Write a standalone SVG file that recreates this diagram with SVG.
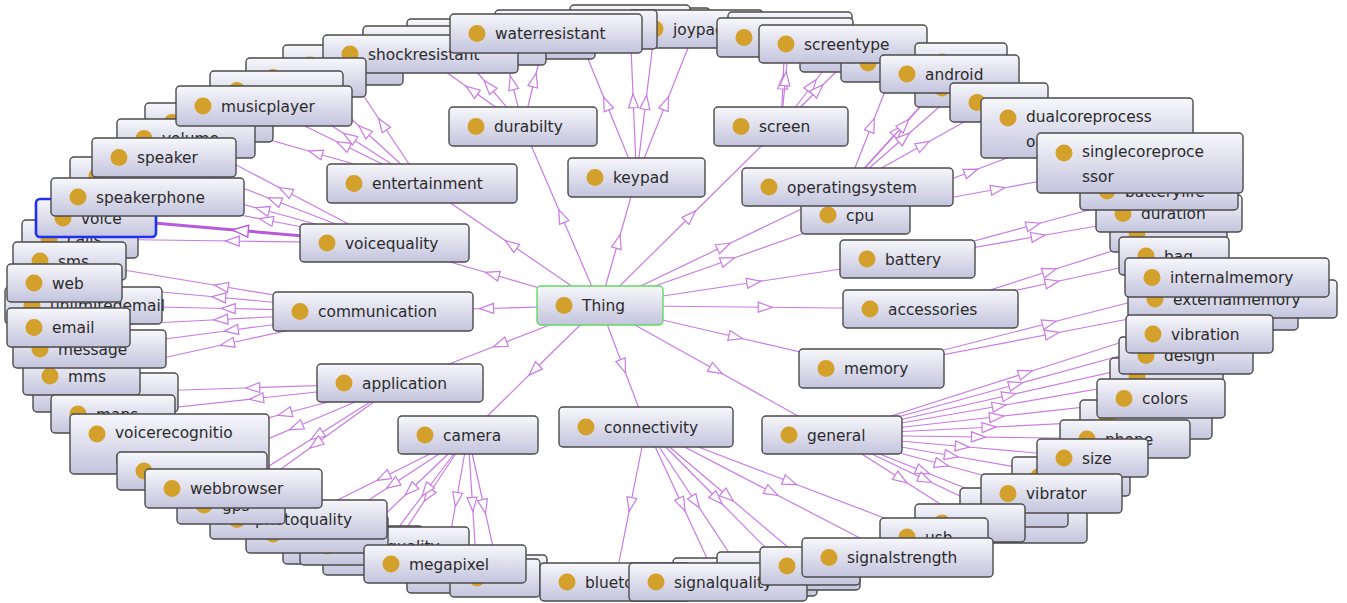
<svg xmlns="http://www.w3.org/2000/svg" width="1347" height="603" viewBox="0 0 1347 603">
<defs>
<linearGradient id="g" x1="0" y1="0" x2="0" y2="1"><stop offset="0" stop-color="#f7f7fb"/><stop offset="1" stop-color="#c4c4de"/></linearGradient>
<marker id="a" markerWidth="16" markerHeight="12" refX="8" refY="6" orient="auto" markerUnits="userSpaceOnUse" viewBox="0 0 16 12"><path d="M1,1 L15,6 L1,11 Z" fill="#fff" stroke="#c97ae3" stroke-width="1.2"/></marker>
<marker id="a2" markerWidth="18" markerHeight="14" refX="9" refY="7" orient="auto" markerUnits="userSpaceOnUse" viewBox="0 0 18 14"><path d="M1,1 L17,7 L1,13 Z" fill="#fff" stroke="#b75ad8" stroke-width="1.4"/></marker>
</defs>
<style>
.n rect{fill:url(#g);stroke:#4b4b4b;stroke-width:1.4}
.n circle{fill:#d3a02c}
.n text{font-family:"DejaVu Sans",sans-serif;font-size:15.4px;fill:#2b2b2b}
#n-thing rect{stroke:#5fdc5f}
#n-voice rect{stroke:#2030f0;stroke-width:2.6}
#edges polyline{fill:none;stroke:#c97ae3;stroke-width:1.2;marker-mid:url(#a)}
#edges polyline.hl{stroke:#b75ad8;stroke-width:3;marker-mid:url(#a2)}
</style>
<rect width="1347" height="603" fill="#fff"/>
<g id="edges">
<polyline points="600,305.5 511,244.5 422,183.5"/>
<polyline points="600,305.5 561.5,216 523,126.5"/>
<polyline points="600,305.5 618.25,241.5 636.5,177.5"/>
<polyline points="600,305.5 690.5,216 781,126.5"/>
<polyline points="600,305.5 723.75,246.25 847.5,187"/>
<polyline points="600,305.5 727.75,260.25 855.5,215"/>
<polyline points="600,305.5 753.75,282.25 907.5,259"/>
<polyline points="600,305.5 765.25,307.25 930.5,309"/>
<polyline points="600,305.5 735.75,337 871.5,368.5"/>
<polyline points="600,305.5 716,370.25 832,435"/>
<polyline points="600,305.5 623,366.25 646,427"/>
<polyline points="600,305.5 534,370.25 468,435"/>
<polyline points="600,305.5 500,344.25 400,383"/>
<polyline points="600,305.5 486.5,308.5 373,311.5"/>
<polyline points="600,305.5 492.25,274.25 384.5,243"/>
<polyline points="422,183.5 382.5,124.25 343,65"/>
<polyline points="422,183.5 364,130.5 306,77.5"/>
<polyline points="422,183.5 349.25,137 276.5,90.5"/>
<polyline points="422,183.5 343,144.75 264,106"/>
<polyline points="422,183.5 315.5,153 209,122.5"/>
<polyline points="384.5,243 285.25,190.75 186,138.5"/>
<polyline points="384.5,243 274.25,200.25 164,157.5"/>
<polyline points="384.5,243 262.25,209.5 140,176"/>
<polyline points="384.5,243 266,220 147.5,197"/>
<polyline class="hl" points="384.5,243 240.25,230.5 96,218"/>
<polyline points="384.5,243 232.25,241 80,239"/>
<polyline points="523,126.5 471.75,90.25 420.5,54"/>
<polyline points="523,126.5 488.75,86 454.5,45.5"/>
<polyline points="523,126.5 512,82.75 501,39"/>
<polyline points="523,126.5 534.5,80 546,33.5"/>
<polyline points="636.5,177.5 606.25,103.5 576,29.5"/>
<polyline points="636.5,177.5 633.25,100.75 630,24"/>
<polyline points="636.5,177.5 645.75,102.25 655,27"/>
<polyline points="636.5,177.5 666,103.25 695.5,29"/>
<polyline points="781,126.5 783,82 785,37.5"/>
<polyline points="781,126.5 785.5,78.75 790,31"/>
<polyline points="781,126.5 812,85.25 843,44"/>
<polyline points="781,126.5 818,89.75 855,53"/>
<polyline points="847.5,187 871.75,125 896,63"/>
<polyline points="847.5,187 898.5,130.5 949.5,74"/>
<polyline points="847.5,187 904.25,124.5 961,62"/>
<polyline points="847.5,187 904.25,137.5 961,88"/>
<polyline points="847.5,187 923.25,144.75 999,102.5"/>
<polyline points="855.5,215 971.25,171.5 1087,128"/>
<polyline points="855.5,215 997.75,189 1140,163"/>
<polyline points="907.5,259 1033.25,225 1159,191"/>
<polyline points="907.5,259 1038.25,236.25 1169,213.5"/>
<polyline points="930.5,309 1049.5,271 1168.5,233"/>
<polyline points="930.5,309 1052.25,282.5 1174,256"/>
<polyline points="871.5,368.5 1049.25,323 1227,277.5"/>
<polyline points="871.5,368.5 1052,333.75 1232.5,299"/>
<polyline points="832,435 1025.5,373 1219,311"/>
<polyline points="832,435 1015.75,384.5 1199.5,334"/>
<polyline points="832,435 1009,395.25 1186,355.5"/>
<polyline points="832,435 999.25,406 1166.5,377"/>
<polyline points="832,435 996.5,416.75 1161,398.5"/>
<polyline points="832,435 989,427.25 1146,419.5"/>
<polyline points="832,435 978.5,437 1125,439"/>
<polyline points="832,435 962.25,446.5 1092.5,458"/>
<polyline points="832,435 951.5,455.75 1071,476.5"/>
<polyline points="832,435 941.75,464.25 1051.5,493.5"/>
<polyline points="832,435 923,471.25 1014,507.5"/>
<polyline points="832,435 925.25,479.5 1018.5,524"/>
<polyline points="832,435 901,479 970,523"/>
<polyline points="646,427 630.5,504.5 615,582"/>
<polyline points="646,427 682,504.5 718,582"/>
<polyline points="646,427 695.5,502 745,577"/>
<polyline points="646,427 717.25,499 788.5,571"/>
<polyline points="646,427 728,496.5 810,566"/>
<polyline points="646,427 771.75,492.25 897.5,557.5"/>
<polyline points="646,427 790,482 934,537"/>
<polyline points="468,435 383.25,477.25 298.5,519.5"/>
<polyline points="468,435 392.5,484.5 317,534"/>
<polyline points="468,435 410.5,490 353,545"/>
<polyline points="468,435 428,495.5 388,556"/>
<polyline points="468,435 426.25,490.5 384.5,546"/>
<polyline points="468,435 456.5,499.5 445,564"/>
<polyline points="468,435 472.5,504.5 477,574"/>
<polyline points="468,435 484,506.5 500,578"/>
<polyline points="400,383 252.75,387.75 105.5,392.5"/>
<polyline points="400,383 256.5,398.5 113,414"/>
<polyline points="400,383 284.75,413.5 169.5,444"/>
<polyline points="400,383 296,427 192,471"/>
<polyline points="400,383 316.75,435.75 233.5,488.5"/>
<polyline points="400,383 315.5,444 231,505"/>
<polyline points="373,311.5 221.25,286.25 69.5,261"/>
<polyline points="373,311.5 218.75,297.25 64.5,283"/>
<polyline points="373,311.5 228.25,308.5 83.5,305.5"/>
<polyline points="373,311.5 220.75,319.5 68.5,327.5"/>
<polyline points="373,311.5 231.25,330.25 89.5,349"/>
<polyline points="373,311.5 227.25,343.75 81.5,376"/>
</g>
<g id="nodes">
<g id="n-j0" class="n"><rect x="600" y="8" width="110" height="38" rx="4"/><circle cx="627" cy="27" r="8.5"/></g>
<g id="n-k0" class="n"><rect x="570" y="5" width="120" height="38" rx="4"/><circle cx="597" cy="24" r="8.5"/></g>
<g id="n-joypad" class="n"><rect x="628" y="10" width="135" height="38" rx="4"/><circle cx="655" cy="29" r="8.5"/><text x="673" y="34.5">joypad</text></g>
<g id="n-k1" class="n"><rect x="495" y="10" width="162" height="39" rx="4"/><circle cx="522" cy="29.5" r="8.5"/></g>
<g id="n-d1" class="n"><rect x="407" y="19" width="188" height="40" rx="4"/><circle cx="434" cy="39" r="8.5"/></g>
<g id="n-d2" class="n"><rect x="363" y="26" width="183" height="39" rx="4"/><circle cx="390" cy="45.5" r="8.5"/></g>
<g id="n-d3" class="n"><rect x="283" y="45" width="120" height="40" rx="4"/><circle cx="310" cy="65" r="8.5"/></g>
<g id="n-shockresistant" class="n"><rect x="323" y="35" width="195" height="38" rx="4"/><circle cx="350" cy="54" r="8.5"/><text x="368" y="59.5">shockresistant</text></g>
<g id="n-waterresistant" class="n"><rect x="450" y="14" width="192" height="39" rx="4"/><circle cx="477" cy="33.5" r="8.5"/><text x="495" y="39">waterresistant</text></g>
<g id="n-sa" class="n"><rect x="728" y="12" width="124" height="38" rx="4"/><circle cx="755" cy="31" r="8.5"/></g>
<g id="n-sb" class="n"><rect x="717" y="18" width="136" height="39" rx="4"/><circle cx="744" cy="37.5" r="8.5"/></g>
<g id="n-sc" class="n"><rect x="800" y="34" width="110" height="38" rx="4"/><circle cx="827" cy="53" r="8.5"/></g>
<g id="n-sd" class="n"><rect x="841" y="44" width="110" height="38" rx="4"/><circle cx="868" cy="63" r="8.5"/></g>
<g id="n-screentype" class="n"><rect x="759" y="25" width="168" height="38" rx="4"/><circle cx="786" cy="44" r="8.5"/><text x="804" y="49.5">screentype</text></g>
<g id="n-oe1" class="n"><rect x="915" y="43" width="92" height="38" rx="4"/><circle cx="942" cy="62" r="8.5"/></g>
<g id="n-oe2" class="n"><rect x="915" y="69" width="92" height="38" rx="4"/><circle cx="942" cy="88" r="8.5"/></g>
<g id="n-android" class="n"><rect x="880" y="55" width="139" height="38" rx="4"/><circle cx="907" cy="74" r="8.5"/><text x="925" y="79.5">android</text></g>
<g id="n-of" class="n"><rect x="950" y="83" width="98" height="39" rx="4"/><circle cx="977" cy="102.5" r="8.5"/></g>
<g id="n-dualcore" class="n"><rect x="981" y="98" width="212" height="60" rx="4"/><circle cx="1008" cy="118" r="8.5"/><text x="1026" y="122">dualcoreprocess</text><text x="1026" y="147">or</text></g>
<g id="n-case" class="n"><rect x="1110" y="214" width="117" height="38" rx="4"/><circle cx="1137" cy="233" r="8.5"/></g>
<g id="n-duration" class="n"><rect x="1096" y="195" width="146" height="37" rx="4"/><circle cx="1123" cy="213.5" r="8.5"/><text x="1141" y="219">duration</text></g>
<g id="n-batterylife" class="n"><rect x="1080" y="172" width="158" height="38" rx="4"/><circle cx="1107" cy="191" r="8.5"/><text x="1125" y="196.5">batterylife</text></g>
<g id="n-singlecore" class="n"><rect x="1037" y="133" width="206" height="60" rx="4"/><circle cx="1064" cy="153" r="8.5"/><text x="1082" y="157">singlecoreproce</text><text x="1082" y="182">ssor</text></g>
<g id="n-bag" class="n"><rect x="1119" y="237" width="110" height="38" rx="4"/><circle cx="1146" cy="256" r="8.5"/><text x="1164" y="261.5">bag</text></g>
<g id="n-m0" class="n"><rect x="1140" y="292" width="158" height="38" rx="4"/><circle cx="1167" cy="311" r="8.5"/></g>
<g id="n-externalmemory" class="n"><rect x="1128" y="280" width="209" height="38" rx="4"/><circle cx="1155" cy="299" r="8.5"/><text x="1173" y="304.5">externalmemory</text></g>
<g id="n-internalmemory" class="n"><rect x="1125" y="258" width="204" height="39" rx="4"/><circle cx="1152" cy="277.5" r="8.5"/><text x="1170" y="283">internalmemory</text></g>
<g id="n-color" class="n"><rect x="1110" y="358" width="113" height="38" rx="4"/><circle cx="1137" cy="377" r="8.5"/></g>
<g id="n-design" class="n"><rect x="1119" y="337" width="134" height="37" rx="4"/><circle cx="1146" cy="355.5" r="8.5"/><text x="1164" y="361">design</text></g>
<g id="n-vibration" class="n"><rect x="1126" y="315" width="147" height="38" rx="4"/><circle cx="1153" cy="334" r="8.5"/><text x="1171" y="339.5">vibration</text></g>
<g id="n-g1" class="n"><rect x="1080" y="400" width="132" height="39" rx="4"/><circle cx="1107" cy="419.5" r="8.5"/></g>
<g id="n-colors" class="n"><rect x="1097" y="379" width="128" height="39" rx="4"/><circle cx="1124" cy="398.5" r="8.5"/><text x="1142" y="404">colors</text></g>
<g id="n-phone" class="n"><rect x="1060" y="420" width="130" height="38" rx="4"/><circle cx="1087" cy="439" r="8.5"/><text x="1105" y="444.5">phone</text></g>
<g id="n-v1" class="n"><rect x="1012" y="457" width="118" height="39" rx="4"/><circle cx="1039" cy="476.5" r="8.5"/></g>
<g id="n-size" class="n"><rect x="1037" y="439" width="111" height="38" rx="4"/><circle cx="1064" cy="458" r="8.5"/><text x="1082" y="463.5">size</text></g>
<g id="n-w1" class="n"><rect x="950" y="505" width="137" height="38" rx="4"/><circle cx="977" cy="524" r="8.5"/></g>
<g id="n-w2" class="n"><rect x="960" y="488" width="108" height="39" rx="4"/><circle cx="987" cy="507.5" r="8.5"/></g>
<g id="n-vibrator" class="n"><rect x="981" y="474" width="141" height="39" rx="4"/><circle cx="1008" cy="493.5" r="8.5"/><text x="1026" y="499">vibrator</text></g>
<g id="n-c5" class="n"><rect x="915" y="504" width="110" height="38" rx="4"/><circle cx="942" cy="523" r="8.5"/></g>
<g id="n-usb" class="n"><rect x="880" y="518" width="108" height="38" rx="4"/><circle cx="907" cy="537" r="8.5"/><text x="925" y="542.5">usb</text></g>
<g id="n-c1" class="n"><rect x="673" y="558" width="144" height="38" rx="4"/><circle cx="700" cy="577" r="8.5"/></g>
<g id="n-c2" class="n"><rect x="717" y="552" width="143" height="38" rx="4"/><circle cx="744" cy="571" r="8.5"/></g>
<g id="n-z1" class="n"><rect x="407" y="555" width="140" height="38" rx="4"/><circle cx="434" cy="574" r="8.5"/></g>
<g id="n-z2" class="n"><rect x="450" y="559" width="90" height="38" rx="4"/><circle cx="477" cy="578" r="8.5"/></g>
<g id="n-bluetooth" class="n"><rect x="540" y="563" width="150" height="38" rx="4"/><circle cx="567" cy="582" r="8.5"/><text x="585" y="587.5">bluetooth</text></g>
<g id="n-signalquality" class="n"><rect x="629" y="563" width="178" height="38" rx="4"/><circle cx="656" cy="582" r="8.5"/><text x="674" y="587.5">signalquality</text></g>
<g id="n-c3" class="n"><rect x="760" y="547" width="100" height="38" rx="4"/><circle cx="787" cy="566" r="8.5"/></g>
<g id="n-signalstrength" class="n"><rect x="802" y="538" width="191" height="39" rx="4"/><circle cx="829" cy="557.5" r="8.5"/><text x="847" y="563">signalstrength</text></g>
<g id="n-e1" class="n"><rect x="246" y="58" width="120" height="39" rx="4"/><circle cx="273" cy="77.5" r="8.5"/></g>
<g id="n-e2" class="n"><rect x="210" y="71" width="133" height="39" rx="4"/><circle cx="237" cy="90.5" r="8.5"/></g>
<g id="n-e3" class="n"><rect x="145" y="103" width="128" height="39" rx="4"/><circle cx="172" cy="122.5" r="8.5"/></g>
<g id="n-volume" class="n"><rect x="117" y="119" width="138" height="39" rx="4"/><circle cx="144" cy="138.5" r="8.5"/><text x="162" y="144">volume</text></g>
<g id="n-musicplayer" class="n"><rect x="176" y="86" width="176" height="40" rx="4"/><circle cx="203" cy="106" r="8.5"/><text x="221" y="111.5">musicplayer</text></g>
<g id="n-e0" class="n"><rect x="70" y="157" width="140" height="38" rx="4"/><circle cx="97" cy="176" r="8.5"/></g>
<g id="n-speaker" class="n"><rect x="92" y="138" width="144" height="39" rx="4"/><circle cx="119" cy="157.5" r="8.5"/><text x="137" y="163">speaker</text></g>
<g id="n-calls" class="n"><rect x="22" y="220" width="116" height="38" rx="4"/><circle cx="49" cy="239" r="8.5"/><text x="67" y="244.5">calls</text></g>
<g id="n-voice" class="n"><rect x="36" y="199" width="120" height="38" rx="4"/><circle cx="63" cy="218" r="8.5"/><text x="81" y="223.5">voice</text></g>
<g id="n-speakerphone" class="n"><rect x="51" y="178" width="193" height="38" rx="4"/><circle cx="78" cy="197" r="8.5"/><text x="96" y="202.5">speakerphone</text></g>
<g id="n-bx" class="n"><rect x="33" y="373" width="145" height="39" rx="4"/><circle cx="60" cy="392.5" r="8.5"/></g>
<g id="n-sms" class="n"><rect x="13" y="242" width="113" height="38" rx="4"/><circle cx="40" cy="261" r="8.5"/><text x="58" y="266.5">sms</text></g>
<g id="n-unl" class="n"><rect x="5" y="287" width="157" height="37" rx="4"/><circle cx="32" cy="305.5" r="8.5"/><text x="50" y="311">unlimitedemail</text></g>
<g id="n-web" class="n"><rect x="7" y="264" width="115" height="38" rx="4"/><circle cx="34" cy="283" r="8.5"/><text x="52" y="288.5">web</text></g>
<g id="n-mms" class="n"><rect x="23" y="357" width="117" height="38" rx="4"/><circle cx="50" cy="376" r="8.5"/><text x="68" y="381.5">mms</text></g>
<g id="n-message" class="n"><rect x="13" y="330" width="153" height="38" rx="4"/><circle cx="40" cy="349" r="8.5"/><text x="58" y="354.5">message</text></g>
<g id="n-email" class="n"><rect x="7" y="308" width="123" height="39" rx="4"/><circle cx="34" cy="327.5" r="8.5"/><text x="52" y="333">email</text></g>
<g id="n-maps" class="n"><rect x="51" y="395" width="124" height="38" rx="4"/><circle cx="78" cy="414" r="8.5"/><text x="96" y="419.5">maps</text></g>
<g id="n-voicerecognition" class="n"><rect x="70" y="414" width="199" height="60" rx="4"/><circle cx="97" cy="434" r="8.5"/><text x="115" y="438">voicerecognitio</text><text x="115" y="463">n</text></g>
<g id="n-by" class="n"><rect x="117" y="452" width="150" height="38" rx="4"/><circle cx="144" cy="471" r="8.5"/></g>
<g id="n-p3" class="n"><rect x="323" y="537" width="130" height="38" rx="4"/><circle cx="350" cy="556" r="8.5"/></g>
<g id="n-p2" class="n"><rect x="283" y="526" width="140" height="38" rx="4"/><circle cx="310" cy="545" r="8.5"/></g>
<g id="n-videoquality" class="n"><rect x="300" y="527" width="169" height="38" rx="4"/><circle cx="327" cy="546" r="8.5"/><text x="345" y="551.5">videoquality</text></g>
<g id="n-p1" class="n"><rect x="246" y="515" width="142" height="38" rx="4"/><circle cx="273" cy="534" r="8.5"/></g>
<g id="n-photoquality" class="n"><rect x="210" y="500" width="177" height="39" rx="4"/><circle cx="237" cy="519.5" r="8.5"/><text x="255" y="525">photoquality</text></g>
<g id="n-gps" class="n"><rect x="177" y="486" width="108" height="38" rx="4"/><circle cx="204" cy="505" r="8.5"/><text x="222" y="510.5">gps</text></g>
<g id="n-webbrowser" class="n"><rect x="145" y="469" width="177" height="39" rx="4"/><circle cx="172" cy="488.5" r="8.5"/><text x="190" y="494">webbrowser</text></g>
<g id="n-megapixel" class="n"><rect x="364" y="545" width="162" height="38" rx="4"/><circle cx="391" cy="564" r="8.5"/><text x="409" y="569.5">megapixel</text></g>
<g id="n-entertainment" class="n"><rect x="327" y="164" width="190" height="39" rx="4"/><circle cx="354" cy="183.5" r="8.5"/><text x="372" y="189">entertainment</text></g>
<g id="n-durabilty" class="n"><rect x="449" y="107" width="148" height="39" rx="4"/><circle cx="476" cy="126.5" r="8.5"/><text x="494" y="132">durabilty</text></g>
<g id="n-keypad" class="n"><rect x="568" y="158" width="137" height="39" rx="4"/><circle cx="595" cy="177.5" r="8.5"/><text x="613" y="183">keypad</text></g>
<g id="n-screen" class="n"><rect x="714" y="107" width="134" height="39" rx="4"/><circle cx="741" cy="126.5" r="8.5"/><text x="759" y="132">screen</text></g>
<g id="n-cpu" class="n"><rect x="801" y="196" width="109" height="38" rx="4"/><circle cx="828" cy="215" r="8.5"/><text x="846" y="220.5">cpu</text></g>
<g id="n-operatingsystem" class="n"><rect x="742" y="168" width="211" height="38" rx="4"/><circle cx="769" cy="187" r="8.5"/><text x="787" y="192.5">operatingsystem</text></g>
<g id="n-battery" class="n"><rect x="840" y="240" width="135" height="38" rx="4"/><circle cx="867" cy="259" r="8.5"/><text x="885" y="264.5">battery</text></g>
<g id="n-accessories" class="n"><rect x="843" y="290" width="175" height="38" rx="4"/><circle cx="870" cy="309" r="8.5"/><text x="888" y="314.5">accessories</text></g>
<g id="n-memory" class="n"><rect x="799" y="349" width="145" height="39" rx="4"/><circle cx="826" cy="368.5" r="8.5"/><text x="844" y="374">memory</text></g>
<g id="n-general" class="n"><rect x="762" y="416" width="140" height="38" rx="4"/><circle cx="789" cy="435" r="8.5"/><text x="807" y="440.5">general</text></g>
<g id="n-connectivity" class="n"><rect x="559" y="407" width="174" height="40" rx="4"/><circle cx="586" cy="427" r="8.5"/><text x="604" y="432.5">connectivity</text></g>
<g id="n-camera" class="n"><rect x="398" y="416" width="140" height="38" rx="4"/><circle cx="425" cy="435" r="8.5"/><text x="443" y="440.5">camera</text></g>
<g id="n-application" class="n"><rect x="317" y="364" width="166" height="38" rx="4"/><circle cx="344" cy="383" r="8.5"/><text x="362" y="388.5">application</text></g>
<g id="n-communication" class="n"><rect x="273" y="292" width="200" height="39" rx="4"/><circle cx="300" cy="311.5" r="8.5"/><text x="318" y="317">communication</text></g>
<g id="n-voicequality" class="n"><rect x="300" y="224" width="169" height="38" rx="4"/><circle cx="327" cy="243" r="8.5"/><text x="345" y="248.5">voicequality</text></g>
<g id="n-thing" class="n"><rect x="537" y="286" width="126" height="39" rx="4"/><circle cx="564" cy="305.5" r="8.5"/><text x="582" y="311">Thing</text></g>
</g>
</svg>
